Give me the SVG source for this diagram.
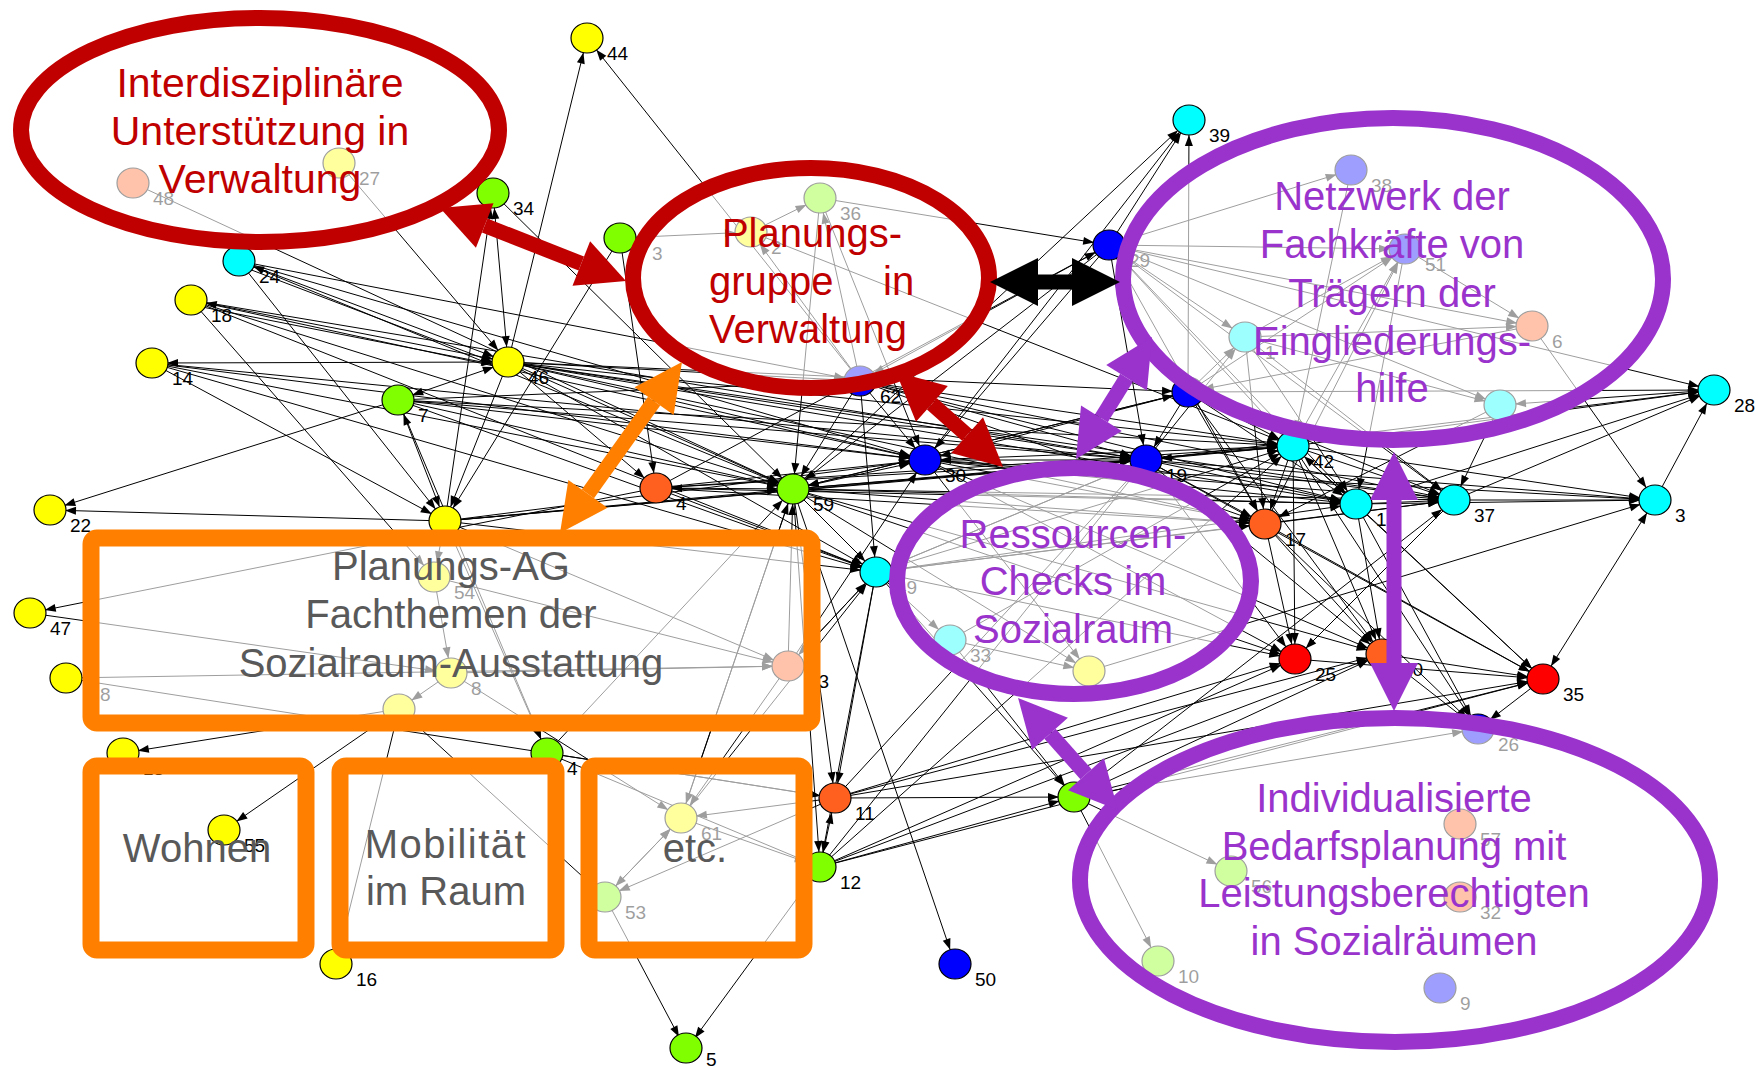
<svg xmlns="http://www.w3.org/2000/svg" width="1758" height="1068" viewBox="0 0 1758 1068">
<defs>
<style>
.e{fill:none;stroke:#000;stroke-width:1;marker-end:url(#ah)}
.b{marker-start:url(#ah)}
.nd{stroke:#000;stroke-width:1.2}
.y{fill:#FFFF00}.g{fill:#80FF00}.c{fill:#00FFFF}.bl{fill:#0000FF}.o{fill:#FF6020}.r{fill:#FF0000}
.lb{font-family:"Liberation Sans Narrow","Liberation Sans",Arial,sans-serif;font-size:19px;fill:#000}
.ov{fill:#fff;fill-opacity:.62}
.rs{stroke:#C00000;stroke-width:16}
.ps{stroke:#9933CC;stroke-width:16}
.os{stroke:#FF8000;stroke-width:17}
.t{font-family:"Liberation Sans",Arial,sans-serif;font-size:40px;text-anchor:middle}
.tr{fill:#C00000}.tp{fill:#9933CC}.tg{fill:#595959}
.da{fill:none;stroke-width:15}
</style>
<marker id="ah" markerUnits="userSpaceOnUse" orient="auto-start-reverse" refX="26" refY="4" markerWidth="30" markerHeight="9" overflow="visible"><path d="M0,0L11,4L0,8z" fill="#000"/></marker>
<marker id="mR" markerUnits="strokeWidth" orient="auto-start-reverse" refX="0" refY="0" overflow="visible"><path d="M0,-1.6L3.2,0L0,1.6z" fill="#C00000"/></marker>
<marker id="mK" markerUnits="strokeWidth" orient="auto-start-reverse" refX="0" refY="0" overflow="visible"><path d="M0,-1.6L3.2,0L0,1.6z" fill="#000"/></marker>
<marker id="mO" markerUnits="strokeWidth" orient="auto-start-reverse" refX="0" refY="0" overflow="visible"><path d="M0,-1.6L3.2,0L0,1.6z" fill="#FF8000"/></marker>
<marker id="mP" markerUnits="strokeWidth" orient="auto-start-reverse" refX="0" refY="0" overflow="visible"><path d="M0,-1.6L3.2,0L0,1.6z" fill="#9933CC"/></marker>
</defs>
<rect width="1758" height="1068" fill="#fff"/>
<g id="connectors">
<path class="e" d="M508 362L587 38"/><path class="e" d="M860 381L587 38"/><path class="e b" d="M508 362L493 193"/><path class="e" d="M445 521L493 193"/>
<path class="e b" d="M239 261L508 362"/><path class="e" d="M241 266L506 367"/><path class="e b" d="M191 300L508 362"/><path class="e" d="M192 305L507 367"/>
<path class="e b" d="M152 363L508 362"/><path class="e" d="M152 363L793 489"/><path class="e b" d="M508 362L398 400"/><path class="e" d="M398 400L50 510"/>
<path class="e" d="M445 521L50 510"/><path class="e" d="M656 488L30 613"/><path class="e b" d="M398 400L445 521"/><path class="e" d="M508 362L445 521"/>
<path class="e" d="M239 261L445 521"/><path class="e" d="M191 300L434 577"/><path class="e" d="M152 363L445 521"/><path class="e" d="M339 163L508 362"/>
<path class="e" d="M133 183L793 489"/><path class="e" d="M508 362L793 489"/><path class="e" d="M508 362L925 460"/><path class="e" d="M508 362L656 488"/>
<path class="e" d="M508 362L876 572"/><path class="e" d="M508 362L860 381"/><path class="e" d="M398 400L793 489"/><path class="e" d="M398 400L925 460"/>
<path class="e" d="M239 261L793 489"/><path class="e" d="M191 300L925 460"/><path class="e" d="M493 193L793 489"/><path class="e" d="M620 238L656 488"/>
<path class="e" d="M620 238L445 521"/><path class="e" d="M445 521L547 753"/><path class="e" d="M398 400L547 753"/><path class="e" d="M399 709L123 753"/>
<path class="e" d="M399 709L224 830"/><path class="e" d="M399 709L336 964"/><path class="e" d="M399 709L605 897"/><path class="e" d="M445 521L434 577"/>
<path class="e" d="M434 577L451 673"/><path class="e" d="M451 673L399 709"/><path class="e" d="M66 678L788 666"/><path class="e" d="M30 613L451 673"/>
<path class="e" d="M793 489L876 572"/><path class="e" d="M793 489L681 818"/><path class="e" d="M793 489L820 867"/><path class="e" d="M793 489L835 798"/>
<path class="e b" d="M656 488L793 489"/><path class="e" d="M860 381L793 489"/><path class="e" d="M860 381L925 460"/><path class="e" d="M860 381L876 572"/>
<path class="e" d="M820 198L793 489"/><path class="e" d="M620 238L751 232"/><path class="e" d="M860 381L751 232"/><path class="e" d="M751 232L820 198"/>
<path class="e" d="M860 381L820 198"/><path class="e" d="M656 488L1109 245"/><path class="e" d="M793 489L1189 120"/><path class="e" d="M925 460L1189 120"/>
<path class="e" d="M1188 392L1189 120"/><path class="e" d="M1109 245L1293 446"/><path class="e" d="M1109 245L1356 504"/><path class="e" d="M1109 245L1265 524"/>
<path class="e" d="M1188 392L1265 524"/><path class="e" d="M1188 392L1293 446"/><path class="e" d="M1146 460L1265 524"/><path class="e b" d="M1146 460L1293 446"/>
<path class="e" d="M1146 460L1356 504"/><path class="e" d="M1146 460L1454 500"/><path class="e" d="M1293 446L1265 524"/><path class="e b" d="M1293 446L1356 504"/>
<path class="e" d="M1293 446L1454 500"/><path class="e" d="M1293 446L1655 500"/><path class="e" d="M1356 504L1454 500"/><path class="e" d="M1356 504L1655 500"/>
<path class="e" d="M1265 524L1454 500"/><path class="e" d="M1265 524L1382 654"/><path class="e" d="M1356 504L1382 654"/><path class="e" d="M1293 446L1382 654"/>
<path class="e" d="M1146 460L1382 654"/><path class="e" d="M1293 446L1543 679"/><path class="e" d="M1356 504L1543 679"/><path class="e b" d="M1655 500L1543 679"/>
<path class="e" d="M1146 460L1714 390"/><path class="e" d="M1293 446L1714 390"/><path class="e" d="M1454 500L1714 390"/><path class="e" d="M1532 326L1655 500"/>
<path class="e" d="M1245 337L1265 524"/><path class="e" d="M1356 504L1478 729"/><path class="e" d="M1543 679L1478 729"/><path class="e" d="M876 572L788 666"/>
<path class="e" d="M876 572L835 798"/><path class="e" d="M876 572L820 867"/><path class="e b" d="M835 798L820 867"/><path class="e" d="M835 798L1074 797"/>
<path class="e" d="M820 867L1074 797"/><path class="e" d="M876 572L1074 797"/><path class="e" d="M950 640L1074 797"/><path class="e" d="M1074 797L1231 871"/>
<path class="e" d="M1074 797L1158 961"/><path class="e" d="M1074 797L1478 729"/><path class="e" d="M1089 671L1655 500"/><path class="e" d="M793 489L955 964"/>
<path class="e" d="M605 897L686 1050"/><path class="e" d="M820 867L686 1050"/><path class="e" d="M925 460L1295 659"/><path class="e" d="M925 460L1382 654"/>
<path class="e" d="M876 572L1295 659"/><path class="e" d="M793 489L1382 654"/><path class="e" d="M835 798L681 818"/><path class="e" d="M788 666L681 818"/>
<path class="e b" d="M681 818L605 897"/><path class="e" d="M835 798L605 897"/><path class="e" d="M1109 245L1405 249"/><path class="e" d="M1109 245L1351 170"/>
<path class="e" d="M1188 392L1405 249"/><path class="e" d="M1245 337L1405 249"/><path class="e" d="M1293 446L1405 249"/><path class="e" d="M1245 337L1532 326"/>
<path class="e" d="M1405 249L1532 326"/><path class="e" d="M1188 392L1245 337"/><path class="e" d="M1146 460L1245 337"/><path class="e" d="M1245 337L1500 405"/>
<path class="e" d="M1109 245L1500 405"/><path class="e" d="M1109 245L1532 326"/><path class="e" d="M1265 524L1405 249"/><path class="e" d="M876 572L950 640"/>
<path class="e" d="M950 640L1089 671"/><path class="e" d="M793 489L1089 671"/><path class="e" d="M925 460L1089 671"/><path class="e" d="M1146 460L876 572"/>
<path class="e b" d="M925 460L1146 460"/><path class="e" d="M925 460L1293 446"/><path class="e" d="M1188 392L925 460"/><path class="e b" d="M793 489L925 460"/>
<path class="e" d="M656 488L925 460"/><path class="e" d="M793 489L1146 460"/><path class="e" d="M793 489L1188 392"/><path class="e" d="M656 488L1146 460"/>
<path class="e" d="M398 400L1146 460"/><path class="e" d="M508 362L1188 392"/><path class="e" d="M508 362L1293 446"/><path class="e" d="M152 363L925 460"/>
<path class="e" d="M239 261L860 381"/><path class="e" d="M191 300L876 572"/><path class="e" d="M445 521L876 572"/><path class="e" d="M445 521L793 489"/>
<path class="e" d="M656 488L876 572"/><path class="e" d="M820 867L1295 659"/><path class="e" d="M835 798L1295 659"/><path class="e" d="M835 798L1543 679"/>
<path class="e" d="M1074 797L1382 654"/><path class="e" d="M820 867L1382 654"/><path class="e" d="M1295 659L1543 679"/><path class="e" d="M1382 654L1543 679"/>
<path class="e" d="M1454 500L1295 659"/><path class="e" d="M1146 460L1295 659"/><path class="e" d="M1188 392L1382 654"/><path class="e" d="M1109 245L1454 500"/>
<path class="e" d="M820 867L1293 446"/><path class="e" d="M835 798L1146 460"/><path class="e" d="M820 867L1146 460"/><path class="e" d="M788 666L925 460"/>
<path class="e" d="M681 818L793 489"/><path class="e" d="M547 753L835 798"/><path class="e" d="M66 678L835 798"/><path class="e" d="M451 673L788 666"/>
<path class="e" d="M445 521L788 666"/><path class="e" d="M434 577L788 666"/><path class="e" d="M451 673L681 818"/><path class="e" d="M547 753L793 489"/>
<path class="e" d="M605 897L681 818"/><path class="e" d="M681 818L876 572"/><path class="e" d="M860 381L1265 524"/><path class="e" d="M860 381L1293 446"/>
<path class="e" d="M820 198L1109 245"/><path class="e" d="M751 232L1293 446"/><path class="e" d="M820 198L925 460"/><path class="e" d="M860 381L1146 460"/>
<path class="e" d="M1188 392L1714 390"/><path class="e" d="M1245 337L1454 500"/>
<path class="e" d="M508 362L1146 460"/><path class="e" d="M508 362L1265 524"/><path class="e" d="M508 362L1356 504"/><path class="e" d="M508 362L1454 500"/>
<path class="e" d="M398 400L1293 446"/><path class="e" d="M398 400L876 572"/><path class="e" d="M398 400L860 381"/><path class="e" d="M152 363L876 572"/>
<path class="e" d="M152 363L1146 460"/><path class="e" d="M191 300L793 489"/><path class="e" d="M191 300L1146 460"/><path class="e" d="M239 261L925 460"/>
<path class="e" d="M445 521L925 460"/><path class="e" d="M445 521L1146 460"/><path class="e" d="M445 521L1293 446"/><path class="e" d="M656 488L1293 446"/>
<path class="e" d="M656 488L1356 504"/><path class="e" d="M656 488L1265 524"/><path class="e" d="M793 489L1293 446"/><path class="e" d="M793 489L1356 504"/>
<path class="e" d="M793 489L1265 524"/><path class="e" d="M793 489L1454 500"/><path class="e" d="M793 489L1295 659"/><path class="e" d="M860 381L1356 504"/>
<path class="e" d="M860 381L1454 500"/><path class="e" d="M925 460L1265 524"/><path class="e" d="M925 460L1356 504"/><path class="e" d="M925 460L1454 500"/>
<path class="e" d="M925 460L1655 500"/><path class="e" d="M1146 460L1655 500"/><path class="e" d="M1146 460L1543 679"/><path class="e" d="M876 572L1146 460"/>
<path class="e" d="M876 572L1265 524"/><path class="e" d="M876 572L1293 446"/><path class="e" d="M876 572L1356 504"/><path class="e" d="M876 572L1454 500"/>
<path class="e" d="M950 640L1293 446"/><path class="e" d="M1109 245L1146 460"/><path class="e" d="M1109 245L925 460"/><path class="e" d="M1109 245L793 489"/>
<path class="e" d="M1109 245L860 381"/><path class="e" d="M1109 245L1189 120"/><path class="e" d="M820 867L1543 679"/><path class="e" d="M835 798L1382 654"/>
<path class="e" d="M1074 797L1543 679"/><path class="e" d="M1074 797L1454 500"/><path class="e" d="M788 666L876 572"/><path class="e" d="M788 666L793 489"/>
<path class="e" d="M681 818L820 867"/><path class="e" d="M547 753L820 867"/><path class="e" d="M1356 504L1714 390"/><path class="e" d="M1265 524L1543 679"/>
<path class="e" d="M1265 524L1295 659"/><path class="e" d="M1265 524L1478 729"/><path class="e" d="M1293 446L1295 659"/><path class="e" d="M1293 446L1478 729"/>
<path class="e" d="M1382 654L1478 729"/><path class="e" d="M1454 500L1655 500"/><path class="e" d="M1500 405L1454 500"/><path class="e" d="M1655 500L1714 390"/>
<path class="e" d="M1188 392L1146 460"/><path class="e" d="M1188 392L1356 504"/><path class="e" d="M1188 392L1454 500"/><path class="e" d="M1188 392L793 489"/>
<path class="e" d="M1245 337L1356 504"/><path class="e" d="M1405 249L1356 504"/><path class="e" d="M1351 170L1293 446"/><path class="e" d="M1500 405L1265 524"/>
<path class="e" d="M1532 326L1188 392"/><path class="e" d="M1109 245L1245 337"/><path class="e" d="M1714 390L1500 405"/><path class="e" d="M1109 245L1714 390"/>
</g>
<g id="nodes">
<g id="n44"><ellipse class="nd y" cx="587" cy="38" rx="16" ry="15"/><text class="lb" x="607" y="60">44</text></g>
<g id="n27"><ellipse class="nd y" cx="339" cy="163" rx="16" ry="15"/><text class="lb" x="359" y="185">27</text></g>
<g id="n48"><ellipse class="nd o" cx="133" cy="183" rx="16" ry="15"/><text class="lb" x="153" y="205">48</text></g>
<g id="n34"><ellipse class="nd g" cx="493" cy="193" rx="16" ry="15"/><text class="lb" x="513" y="215">34</text></g>
<g id="n24"><ellipse class="nd c" cx="239" cy="261" rx="16" ry="15"/><text class="lb" x="259" y="283">24</text></g>
<g id="n18"><ellipse class="nd y" cx="191" cy="300" rx="16" ry="15"/><text class="lb" x="211" y="322">18</text></g>
<g id="n14"><ellipse class="nd y" cx="152" cy="363" rx="16" ry="15"/><text class="lb" x="172" y="385">14</text></g>
<g id="n46"><ellipse class="nd y" cx="508" cy="362" rx="16" ry="15"/><text class="lb" x="528" y="384">46</text></g>
<g id="n7"><ellipse class="nd g" cx="398" cy="400" rx="16" ry="15"/><text class="lb" x="418" y="422">7</text></g>
<g id="n22"><ellipse class="nd y" cx="50" cy="510" rx="16" ry="15"/><text class="lb" x="70" y="532">22</text></g>
<g id="n47"><ellipse class="nd y" cx="30" cy="613" rx="16" ry="15"/><text class="lb" x="50" y="635">47</text></g>
<g id="nL8"><ellipse class="nd y" cx="66" cy="678" rx="16" ry="15"/><text class="lb" x="100" y="701">8</text></g>
<g id="n2y"><ellipse class="nd y" cx="445" cy="521" rx="16" ry="15"/></g>
<g id="n54"><ellipse class="nd y" cx="434" cy="577" rx="16" ry="15"/><text class="lb" x="454" y="599">54</text></g>
<g id="n8"><ellipse class="nd y" cx="451" cy="673" rx="16" ry="15"/><text class="lb" x="471" y="695">8</text></g>
<g id="nY"><ellipse class="nd y" cx="399" cy="709" rx="16" ry="15"/></g>
<g id="n13"><ellipse class="nd y" cx="123" cy="753" rx="16" ry="15"/><text class="lb" x="143" y="775">13</text></g>
<g id="n16"><ellipse class="nd y" cx="336" cy="964" rx="16" ry="15"/><text class="lb" x="356" y="986">16</text></g>
<g id="n4g"><ellipse class="nd g" cx="547" cy="753" rx="16" ry="15"/><text class="lb" x="567" y="775">4</text></g>
<g id="n61"><ellipse class="nd y" cx="681" cy="818" rx="16" ry="15"/><text class="lb" x="701" y="840">61</text></g>
<g id="n53"><ellipse class="nd g" cx="605" cy="897" rx="16" ry="15"/><text class="lb" x="625" y="919">53</text></g>
<g id="n5"><ellipse class="nd g" cx="686" cy="1048" rx="16" ry="15"/><text class="lb" x="706" y="1066">5</text></g>
<g id="n4o"><ellipse class="nd o" cx="656" cy="488" rx="16" ry="15"/><text class="lb" x="676" y="510">4</text></g>
<g id="n59"><ellipse class="nd g" cx="793" cy="489" rx="16" ry="15"/><text class="lb" x="813" y="511">59</text></g>
<g id="n62"><ellipse class="nd bl" cx="860" cy="381" rx="16" ry="15"/><text class="lb" x="880" y="403">62</text></g>
<g id="n36"><ellipse class="nd g" cx="820" cy="198" rx="16" ry="15"/><text class="lb" x="840" y="220">36</text></g>
<g id="n2"><ellipse class="nd y" cx="751" cy="232" rx="16" ry="15"/><text class="lb" x="771" y="254">2</text></g>
<g id="n3g"><ellipse class="nd g" cx="620" cy="238" rx="16" ry="15"/><text class="lb" x="652" y="260">3</text></g>
<g id="n30"><ellipse class="nd bl" cx="925" cy="460" rx="16" ry="15"/><text class="lb" x="945" y="482">30</text></g>
<g id="n49"><ellipse class="nd c" cx="876" cy="572" rx="16" ry="15"/><text class="lb" x="896" y="594">49</text></g>
<g id="n23"><ellipse class="nd o" cx="788" cy="666" rx="16" ry="15"/><text class="lb" x="808" y="688">23</text></g>
<g id="n11"><ellipse class="nd o" cx="835" cy="798" rx="16" ry="15"/><text class="lb" x="855" y="820">11</text></g>
<g id="n12"><ellipse class="nd g" cx="820" cy="867" rx="16" ry="15"/><text class="lb" x="840" y="889">12</text></g>
<g id="n50"><ellipse class="nd bl" cx="955" cy="964" rx="16" ry="15"/><text class="lb" x="975" y="986">50</text></g>
<g id="n33"><ellipse class="nd c" cx="950" cy="640" rx="16" ry="15"/><text class="lb" x="970" y="662">33</text></g>
<g id="nYc"><ellipse class="nd y" cx="1089" cy="671" rx="16" ry="15"/></g>
<g id="n40"><ellipse class="nd g" cx="1074" cy="797" rx="16" ry="15"/></g>
<g id="n56"><ellipse class="nd g" cx="1231" cy="871" rx="16" ry="15"/><text class="lb" x="1251" y="893">56</text></g>
<g id="n10"><ellipse class="nd g" cx="1158" cy="961" rx="16" ry="15"/><text class="lb" x="1178" y="983">10</text></g>
<g id="n57"><ellipse class="nd o" cx="1460" cy="824" rx="16" ry="15"/><text class="lb" x="1480" y="846">57</text></g>
<g id="n32"><ellipse class="nd o" cx="1460" cy="897" rx="16" ry="15"/><text class="lb" x="1480" y="919">32</text></g>
<g id="n9"><ellipse class="nd bl" cx="1440" cy="988" rx="16" ry="15"/><text class="lb" x="1460" y="1010">9</text></g>
<g id="n26"><ellipse class="nd bl" cx="1478" cy="729" rx="16" ry="15"/><text class="lb" x="1498" y="751">26</text></g>
<g id="n35"><ellipse class="nd r" cx="1543" cy="679" rx="16" ry="15"/><text class="lb" x="1563" y="701">35</text></g>
<g id="n20"><ellipse class="nd o" cx="1382" cy="654" rx="16" ry="15"/><text class="lb" x="1402" y="676">20</text></g>
<g id="n25"><ellipse class="nd r" cx="1295" cy="659" rx="16" ry="15"/><text class="lb" x="1315" y="681">25</text></g>
<g id="n17"><ellipse class="nd o" cx="1265" cy="524" rx="16" ry="15"/><text class="lb" x="1285" y="546">17</text></g>
<g id="n15"><ellipse class="nd c" cx="1356" cy="504" rx="16" ry="15"/><text class="lb" x="1376" y="526">15</text></g>
<g id="n37"><ellipse class="nd c" cx="1454" cy="500" rx="16" ry="15"/><text class="lb" x="1474" y="522">37</text></g>
<g id="n3"><ellipse class="nd c" cx="1655" cy="500" rx="16" ry="15"/><text class="lb" x="1675" y="522">3</text></g>
<g id="n42"><ellipse class="nd c" cx="1293" cy="446" rx="16" ry="15"/><text class="lb" x="1313" y="468">42</text></g>
<g id="n19"><ellipse class="nd bl" cx="1146" cy="460" rx="16" ry="15"/><text class="lb" x="1166" y="482">19</text></g>
<g id="n28"><ellipse class="nd c" cx="1714" cy="390" rx="16" ry="15"/><text class="lb" x="1734" y="412">28</text></g>
<g id="nCf"><ellipse class="nd c" cx="1500" cy="405" rx="16" ry="15"/></g>
<g id="n1"><ellipse class="nd c" cx="1245" cy="337" rx="16" ry="15"/><text class="lb" x="1265" y="359">1</text></g>
<g id="n6"><ellipse class="nd o" cx="1532" cy="326" rx="16" ry="15"/><text class="lb" x="1552" y="348">6</text></g>
<g id="n51"><ellipse class="nd bl" cx="1405" cy="249" rx="16" ry="15"/><text class="lb" x="1425" y="271">51</text></g>
<g id="n38"><ellipse class="nd bl" cx="1351" cy="170" rx="16" ry="15"/><text class="lb" x="1371" y="192">38</text></g>
<g id="n39"><ellipse class="nd c" cx="1189" cy="120" rx="16" ry="15"/><text class="lb" x="1209" y="142">39</text></g>
<g id="n29"><ellipse class="nd bl" cx="1109" cy="245" rx="16" ry="15"/><text class="lb" x="1129" y="267">29</text></g>
<g id="nB"><ellipse class="nd bl" cx="1188" cy="392" rx="16" ry="15"/></g>
</g>
<g id="ov-interdisziplinaer">
<ellipse class="ov rs" cx="260" cy="130" rx="239" ry="112"/>
<text class="t tr" style="font-size:41px"><tspan x="260" y="97">Interdisziplinäre</tspan><tspan x="260" y="145">Unterstützung in</tspan><tspan x="260" y="193">Verwaltung</tspan></text>
</g>
<g id="ov-planungsgruppe">
<ellipse class="ov rs" cx="811" cy="278" rx="178" ry="110"/>
<text class="t tr"><tspan x="812" y="247">Planungs-</tspan></text>
<text class="t tr" style="text-anchor:start"><tspan x="709" y="295">gruppe</tspan><tspan x="883" y="295">in</tspan></text>
<text class="t tr"><tspan x="808" y="343">Verwaltung</tspan></text>
</g>
<g id="ov-netzwerk">
<ellipse class="ov ps" cx="1393" cy="279" rx="270" ry="161"/>
<text class="t tp"><tspan x="1392" y="210">Netzwerk der</tspan><tspan x="1392" y="258">Fachkräfte von</tspan><tspan x="1392" y="307">Trägern der</tspan><tspan x="1392" y="355">Eingliederungs-</tspan><tspan x="1392" y="402">hilfe</tspan></text>
</g>
<g id="ov-ressourcen">
<ellipse class="ov ps" cx="1074" cy="581" rx="177" ry="113"/>
<text class="t tp"><tspan x="1073" y="548">Ressourcen-</tspan><tspan x="1073" y="595">Checks im</tspan><tspan x="1073" y="643">Sozialraum</tspan></text>
</g>
<g id="ov-individualisiert">
<ellipse class="ov ps" cx="1395" cy="880" rx="315" ry="162"/>
<text class="t tp"><tspan x="1394" y="812">Individualisierte</tspan><tspan x="1394" y="860">Bedarfsplanung mit</tspan><tspan x="1394" y="907">Leistungsberechtigten</tspan><tspan x="1394" y="955">in Sozialräumen</tspan></text>
</g>
<g id="ov-planungsag">
<rect class="ov os" x="91" y="538" width="721" height="185" rx="6"/>
<text class="t tg"><tspan x="451" y="580">Planungs-AG</tspan><tspan x="451" y="628">Fachthemen der</tspan><tspan x="451" y="677">Sozialraum-Ausstattung</tspan></text>
</g>
<g id="ov-wohnen">
<rect class="os" fill="none" x="91" y="766" width="215" height="184" rx="6"/>
<ellipse class="nd y" cx="224" cy="830" rx="16" ry="15"/><text class="lb" x="244" y="852">55</text>
<text class="t tg" x="197" y="862">Wohnen</text>
</g>
<g id="ov-mobilitaet">
<rect class="ov os" x="340" y="766" width="216" height="184" rx="6"/>
<text class="t tg"><tspan x="446" y="858" letter-spacing="1.5">Mobilität</tspan><tspan x="446" y="905">im Raum</tspan></text>
</g>
<g id="ov-etc">
<rect class="ov os" x="589" y="766" width="215" height="184" rx="6"/>
<text class="t tg" x="695" y="862">etc.</text>
</g>
<g id="overlay-connectors">
<path class="da" stroke="#C00000" style="marker-start:url(#mR);marker-end:url(#mR)" d="M484.7 225.5L581.3 263.5"/>
<path class="da" stroke="#C00000" style="marker-start:url(#mR);marker-end:url(#mR)" d="M931.9 403.9L967.1 435.1"/>
<path class="da" stroke="#000" style="marker-start:url(#mK);marker-end:url(#mK)" d="M1038 282L1072 282"/>
<path class="da" stroke="#FF8000" style="marker-start:url(#mO);marker-end:url(#mO)" d="M654.1 401.1L587.9 493.9"/>
<path class="da" stroke="#9933CC" style="marker-start:url(#mP);marker-end:url(#mP)" d="M1101.4 418.2L1126.6 377.8"/>
<path class="da" stroke="#9933CC" style="marker-start:url(#mP);marker-end:url(#mP)" d="M1394 500L1394 663"/>
<path class="da" stroke="#9933CC" style="marker-start:url(#mP);marker-end:url(#mP)" d="M1050 733.8L1086 774.2"/>
</g>
</svg>
